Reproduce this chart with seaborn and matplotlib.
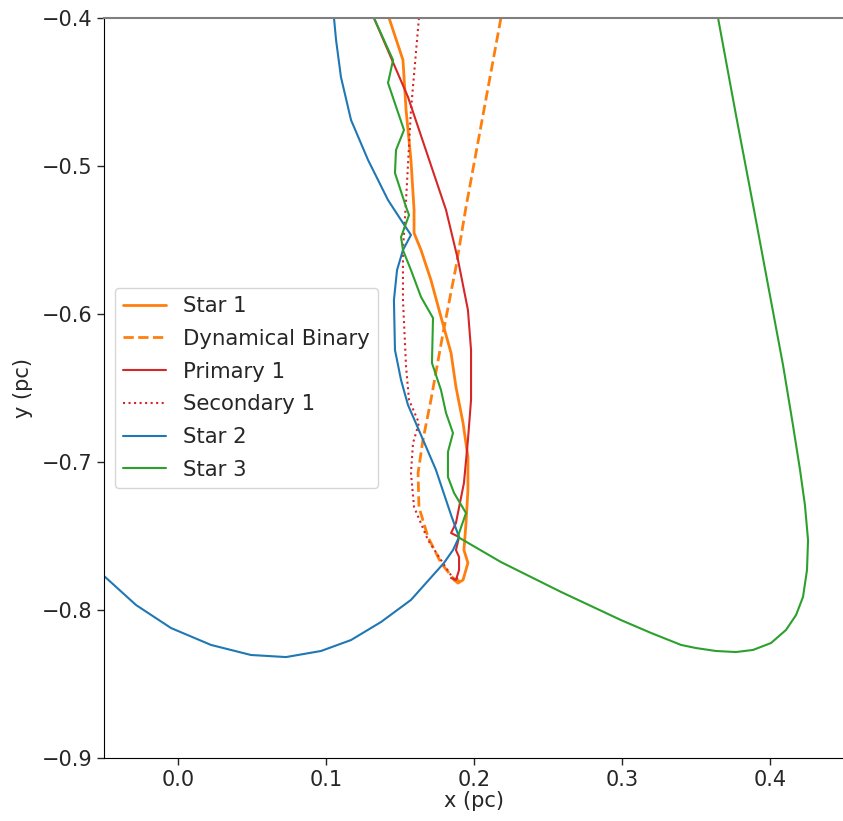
import numpy as np
import pandas as pd
import seaborn as sns
import matplotlib
matplotlib.use("Agg")
import matplotlib.pyplot as plt

# Trajectories in the x-y plane (pc)
star1_x = [0.1426, 0.1520, 0.1541, 0.1574, 0.1595, 0.1595, 0.1642, 0.1709, 0.1777, 0.1845,
           0.1878, 0.1926, 0.1959, 0.1959, 0.1946, 0.1932, 0.1959, 0.1926, 0.1892, 0.1865]
star1_y = [-0.4000, -0.4284, -0.4622, -0.4959, -0.5297, -0.5453, -0.5568, -0.5770, -0.6020, -0.6264,
           -0.6493, -0.6736, -0.6966, -0.7189, -0.7412, -0.7595, -0.7682, -0.7797, -0.7818, -0.7797]

binary_x = [0.2182, 0.1946, 0.1878, 0.1791, 0.1709, 0.1655, 0.1622, 0.1628, 0.1689, 0.1777,
            0.1858, 0.1912]
binary_y = [-0.4000, -0.5277, -0.5682, -0.6128, -0.6581, -0.6851, -0.7074, -0.7304, -0.7507, -0.7682,
            -0.7784, -0.7811]

primary_x = [0.1324, 0.1554, 0.1811, 0.1892, 0.1959, 0.1980, 0.1980, 0.1959, 0.1932, 0.1878,
             0.1845, 0.1899, 0.1878, 0.1899, 0.1899, 0.1878, 0.1845]
primary_y = [-0.4000, -0.4534, -0.5297, -0.5635, -0.5973, -0.6243, -0.6581, -0.6851, -0.7142, -0.7412,
             -0.7480, -0.7507, -0.7595, -0.7642, -0.7730, -0.7797, -0.7784]

secondary_x = [0.1628, 0.1574, 0.1541, 0.1520, 0.1520, 0.1541, 0.1561, 0.1628, 0.1588, 0.1574,
               0.1595, 0.1689, 0.1777, 0.1865, 0.1892]
secondary_y = [-0.4000, -0.4622, -0.5230, -0.5568, -0.5905, -0.6358, -0.6581, -0.6736, -0.6872, -0.7074,
               -0.7304, -0.7527, -0.7662, -0.7797, -0.7784]

star2_x = [0.1054, 0.1068, 0.1101, 0.1169, 0.1284, 0.1419, 0.1507, 0.1574, 0.1520, 0.1480,
           0.1459, 0.1466, 0.1507, 0.1554, 0.1642, 0.1743, 0.1845, 0.1899, 0.1858, 0.1797,
           0.1574, 0.1372, 0.1169, 0.0966, 0.0730, 0.0493, 0.0223, -0.0047, -0.0284, -0.0500]
star2_y = [-0.4000, -0.4149, -0.4399, -0.4689, -0.4959, -0.5230, -0.5365, -0.5466, -0.5568, -0.5703,
           -0.5905, -0.6243, -0.6446, -0.6615, -0.6818, -0.7054, -0.7358, -0.7507, -0.7595, -0.7682,
           -0.7932, -0.8081, -0.8203, -0.8277, -0.8318, -0.8304, -0.8236, -0.8122, -0.7966, -0.7770]

star3_x = [0.1324, 0.1453, 0.1419, 0.1527, 0.1473, 0.1466, 0.1541, 0.1561, 0.1507, 0.1520,
           0.1574, 0.1642, 0.1723, 0.1716, 0.1777, 0.1811, 0.1858, 0.1824, 0.1824, 0.1865,
           0.1946, 0.1899, 0.1892, 0.2182, 0.2588, 0.2993, 0.3196, 0.3399, 0.3500, 0.3635,
           0.3770, 0.3885, 0.4007, 0.4108, 0.4176, 0.4223, 0.4250, 0.4257, 0.4236, 0.4203,
           0.4155, 0.4088, 0.3993, 0.3892, 0.3770, 0.3649]
star3_y = [-0.4000, -0.4284, -0.4439, -0.4757, -0.4892, -0.5047, -0.5277, -0.5331, -0.5480, -0.5568,
           -0.5703, -0.5885, -0.6027, -0.6331, -0.6514, -0.6669, -0.6804, -0.6932, -0.7101, -0.7209,
           -0.7345, -0.7480, -0.7507, -0.7676, -0.7878, -0.8068, -0.8155, -0.8236, -0.8257, -0.8277,
           -0.8284, -0.8270, -0.8223, -0.8135, -0.8034, -0.7912, -0.7730, -0.7527, -0.7291, -0.7054,
           -0.6750, -0.6345, -0.5838, -0.5297, -0.4655, -0.4000]

sns.set_style("ticks")
plt.rcParams["font.family"] = ["DejaVu Sans"]
plt.rcParams["font.size"] = 15

W, H = 843, 821
fig = plt.figure(figsize=(W / 100, H / 100), dpi=100)
ax = fig.add_axes([104 / W, (H - 758) / H, 740 / W, 740 / H])

series = [
    ("Star 1", star1_x, star1_y, "#ff7f0e", "-", 2.0),
    ("Dynamical Binary", binary_x, binary_y, "#ff7f0e", "--", 2.0),
    ("Primary 1", primary_x, primary_y, "#d62728", "-", 1.5),
    ("Secondary 1", secondary_x, secondary_y, "#d62728", ":", 1.5),
    ("Star 2", star2_x, star2_y, "#1f77b4", "-", 1.5),
    ("Star 3", star3_x, star3_y, "#2ca02c", "-", 1.5),
]

for name, xs, ys, col, ls, lw in series:
    df = pd.DataFrame({"x": xs, "y": ys})
    sns.lineplot(data=df, x="x", y="y", sort=False, estimator=None, ax=ax,
                 color=col, linestyle=ls, linewidth=lw, label=name)

ax.set_xlim(-0.05, 0.45)
ax.set_ylim(-0.9, -0.4)
ax.set_xticks([0.0, 0.1, 0.2, 0.3, 0.4])
ax.set_yticks([-0.9, -0.8, -0.7, -0.6, -0.5, -0.4])
ax.tick_params(labelsize=15, length=5, width=1)
ax.set_xlabel("x (pc)", fontsize=15, labelpad=1)
ax.set_ylabel("y (pc)", fontsize=15, labelpad=6)
ax.spines["top"].set_color("#7f7f7f")
ax.spines["top"].set_linewidth(1.5)
for s in ["left", "bottom", "right"]:
    ax.spines[s].set_color("black")

ax.legend(loc="center left", fontsize=15.3, frameon=True, labelspacing=0.6)

fig.savefig("out.png", dpi=100)
